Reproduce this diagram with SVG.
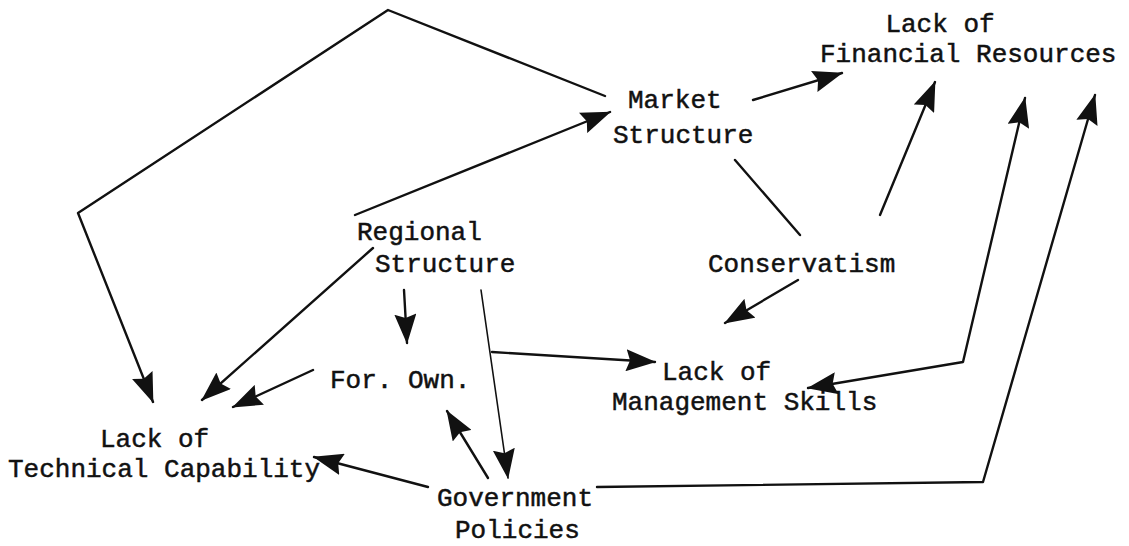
<svg xmlns="http://www.w3.org/2000/svg" width="1129" height="546" viewBox="0 0 1129 546">
  <defs>
    <style>
      .lbl { font-family: "Liberation Mono", "Courier New", monospace; font-size: 26px; fill: #111; stroke: #111; stroke-width: 0.5; }
      .c { fill: none; stroke: #111; stroke-width: 2.4; stroke-linecap: round; stroke-linejoin: round; }
      .thin { stroke-width: 1.6; }
    </style>
    <marker id="ah" viewBox="0 0 30 22" refX="29" refY="11" markerWidth="30" markerHeight="22" markerUnits="userSpaceOnUse" orient="auto-start-reverse">
      <path d="M0,0 L30,11 L0,22 L4,11 Z" fill="#111"/>
    </marker>
  </defs>
  <rect width="1129" height="546" fill="#fff"/>

  <g id="connectors">
    <!-- Market Structure around the top to Lack of Technical Capability -->
    <path class="c" d="M605,96 L388,10 L78,213 L153,402" marker-end="url(#ah)"/>
    <!-- Regional Structure to Market Structure -->
    <path class="c" d="M355,215 L610,112" marker-end="url(#ah)"/>
    <!-- Market Structure to Financial Resources -->
    <path class="c" d="M753,100 L842,73" marker-end="url(#ah)"/>
    <!-- Market Structure to Conservatism -->
    <path class="c" d="M735,160 L800,235"/>
    <!-- Conservatism to Financial Resources -->
    <path class="c" d="M880,215 L935,82" marker-end="url(#ah)"/>
    <!-- Conservatism to Management Skills -->
    <path class="c" d="M798,280 L725,323" marker-end="url(#ah)"/>
    <!-- Regional Structure to Government Policies, branch to Management Skills -->
    <path class="c thin" d="M481,290 L508,478" marker-end="url(#ah)"/>
    <path class="c" d="M492,352 L655,362" marker-end="url(#ah)"/>
    <!-- Regional Structure to For. Own. -->
    <path class="c" d="M404,290 L407,343" marker-end="url(#ah)"/>
    <!-- Regional Structure to Technical Capability -->
    <path class="c" d="M373,248 L202,400" marker-end="url(#ah)"/>
    <!-- For. Own. to Technical Capability -->
    <path class="c" d="M313,370 L233,407" marker-end="url(#ah)"/>
    <!-- Government Policies to For. Own. -->
    <path class="c" d="M488,478 L447,411" marker-end="url(#ah)"/>
    <!-- Government Policies to Technical Capability -->
    <path class="c" d="M428,487 L314,457" marker-end="url(#ah)"/>
    <!-- Government Policies to Financial Resources -->
    <path class="c" d="M597,487 L983,482 L1095,95" marker-end="url(#ah)"/>
    <!-- Financial Resources and Management Skills link -->
    <path class="c" d="M1025,98 L963,362 L808,388" marker-start="url(#ah)" marker-end="url(#ah)"/>
  </g>

  <g id="financial">
    <text class="lbl" x="940" y="32" text-anchor="middle">Lack of</text>
    <text class="lbl" x="820" y="62">Financial Resources</text>
  </g>
  <g id="market">
    <text class="lbl" x="628" y="108">Market</text>
    <text class="lbl" x="613" y="143">Structure</text>
  </g>
  <g id="regional">
    <text class="lbl" x="357" y="240">Regional</text>
    <text class="lbl" x="375" y="272">Structure</text>
  </g>
  <g id="conservatism">
    <text class="lbl" x="708" y="272">Conservatism</text>
  </g>
  <g id="forown">
    <text class="lbl" x="330" y="388">For. Own.</text>
  </g>
  <g id="management">
    <text class="lbl" x="662" y="380">Lack of</text>
    <text class="lbl" x="612" y="410">Management Skills</text>
  </g>
  <g id="technical">
    <text class="lbl" x="100" y="447">Lack of</text>
    <text class="lbl" x="8" y="477">Technical Capability</text>
  </g>
  <g id="government">
    <text class="lbl" x="437" y="506">Government</text>
    <text class="lbl" x="455" y="538">Policies</text>
  </g>
</svg>
